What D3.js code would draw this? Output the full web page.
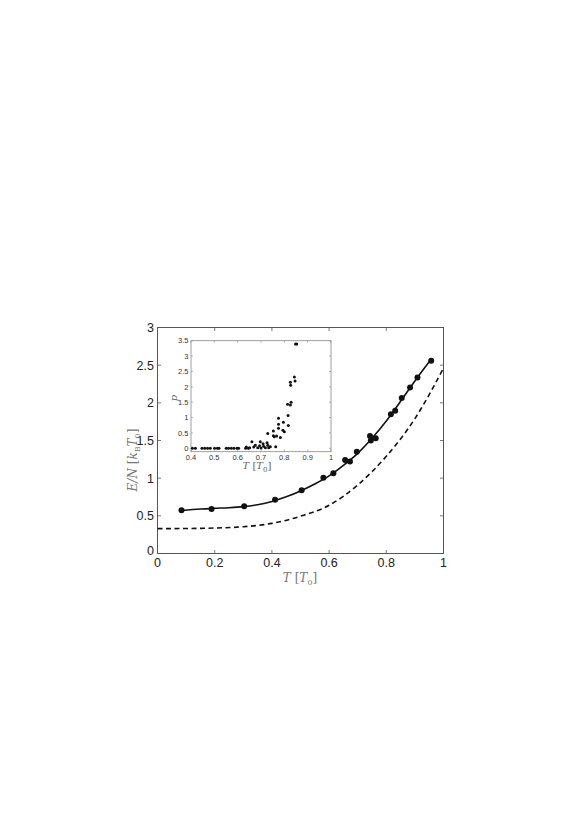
<!DOCTYPE html>
<html><head><meta charset="utf-8">
<script src="https://cdn.jsdelivr.net/npm/d3@7"></script>
<style>body{margin:0;background:#fff}svg{display:block}</style>
</head><body>
<script>
// Main panel data
const dataT = [0.084,0.189,0.303,0.411,0.504,0.580,0.615,0.656,0.673,0.697,0.743,0.746,0.763,0.816,0.831,0.854,0.883,0.909,0.957];
const dataE = [0.575,0.590,0.627,0.712,0.840,1.005,1.065,1.240,1.220,1.350,1.560,1.500,1.530,1.850,1.895,2.065,2.205,2.335,2.560];
const fitT = [0.084,0.15,0.2,0.25,0.3,0.35,0.4,0.45,0.5,0.55,0.6,0.65,0.7,0.75,0.8,0.85,0.9,0.955];
const fitE = [0.570,0.590,0.600,0.608,0.622,0.648,0.690,0.752,0.830,0.922,1.030,1.170,1.330,1.530,1.760,2.020,2.290,2.570];
const dashT = [0,0.1,0.2,0.3,0.4,0.5,0.6,0.7,0.8,0.9,1.0];
const dashE = [0.330,0.332,0.338,0.355,0.400,0.495,0.640,0.910,1.290,1.790,2.460];
const xTicks = [0,0.2,0.4,0.6,0.8,1];
const yTicks = [0,0.5,1,1.5,2,2.5,3];
// Inset data
const insetT = [0.406,0.419,0.447,0.459,0.471,0.483,0.501,0.513,0.520,0.551,0.561,0.573,0.584,0.597,0.604,0.634,0.646,
  0.637,0.651,0.661,0.669,0.676,0.686,0.694,0.697,0.700,0.709,0.711,0.719,0.726,0.729,0.733,0.740,
  0.729,0.753,0.753,0.757,0.763,0.767,0.775,0.775,0.775,0.783,0.794,0.796,0.800,0.814,0.816,0.817,0.826,0.829,0.826,0.827,0.843,0.846,0.848,0.853];
const insetP = [0,0,0,0,0,0,0,0,0,0,0,0,0,0,0,0,0,
  0.04,0.02,0.21,0.04,0.10,0.02,0.08,0.21,0.01,0.15,0.07,0.02,0.18,0.10,0.02,0.05,
  0.48,0.56,0.41,0.38,0.05,0.40,0.98,0.78,0.65,0.35,0.59,0.85,0.54,1.43,1.07,0.74,1.41,1.50,2.15,2.05,2.32,2.19,3.39,3.39];
const insetXTicks = [0.4,0.5,0.6,0.7,0.8,0.9,1];
const insetYTicks = [0,0.5,1,1.5,2,2.5,3,3.5];

const W=578,H=816;
const svg=d3.select("body").append("svg").attr("width",W).attr("height",H);
const sans="Liberation Sans, Arial, Helvetica, sans-serif";
const serif="DejaVu Serif, Liberation Serif, serif";

// main scales
const x=d3.scaleLinear().domain([0,1]).range([157.5,443.5]);
const y=d3.scaleLinear().domain([0,3]).range([553.5,327.5]);
const frameCol="#555";

const g=svg.append("g");
const tl=3.5;
xTicks.forEach(t=>{
  g.append("line").attr("x1",x(t)).attr("x2",x(t)).attr("y1",y(0)).attr("y2",y(0)-tl).attr("stroke",frameCol).attr("stroke-width",0.8);
  g.append("line").attr("x1",x(t)).attr("x2",x(t)).attr("y1",y(3)).attr("y2",y(3)+tl).attr("stroke",frameCol).attr("stroke-width",0.8);
  g.append("text").attr("x",x(t)).attr("y",567).attr("text-anchor","middle").attr("font-family",sans).attr("font-size",12.5).attr("fill","#222").text(t);
});
yTicks.forEach(t=>{
  g.append("line").attr("x1",x(0)).attr("x2",x(0)+tl).attr("y1",y(t)).attr("y2",y(t)).attr("stroke",frameCol).attr("stroke-width",0.8);
  g.append("line").attr("x1",x(1)).attr("x2",x(1)-tl).attr("y1",y(t)).attr("y2",y(t)).attr("stroke",frameCol).attr("stroke-width",0.8);
  g.append("text").attr("x",154).attr("y",y(t)+ (t===0?1:4.5)).attr("text-anchor","end").attr("font-family",sans).attr("font-size",12.5).attr("fill","#222").text(t);
});
g.append("rect").attr("x",x(0)).attr("y",y(3)).attr("width",x(1)-x(0)).attr("height",y(0)-y(3)).attr("fill","none").attr("stroke",frameCol).attr("stroke-width",1);

const line=d3.line().x(d=>x(d[0])).y(d=>y(d[1])).curve(d3.curveMonotoneX);
g.append("path").attr("d",line(d3.zip(dashT,dashE))).attr("fill","none").attr("stroke","#111").attr("stroke-width",1.6).attr("stroke-dasharray","5,3.5");
g.append("path").attr("d",line(d3.zip(fitT,fitE))).attr("fill","none").attr("stroke","#111").attr("stroke-width",1.6);
g.selectAll("circle.m").data(d3.zip(dataT,dataE)).enter().append("circle").attr("cx",d=>x(d[0])).attr("cy",d=>y(d[1])).attr("r",3).attr("fill","#111");

const xl=g.append("text").attr("x",300).attr("y",582).attr("text-anchor","middle").attr("font-family",serif).attr("font-size",12).attr("fill","#777");
xl.append("tspan").attr("font-style","italic").text("T");
xl.append("tspan").text(" [");
xl.append("tspan").attr("font-style","italic").text("T");
xl.append("tspan").attr("font-size",8).attr("dy",3).text("0");
xl.append("tspan").attr("dy",-3).text("]");

const yl=g.append("text").attr("transform","translate(137,460) rotate(-90)").attr("text-anchor","middle").attr("font-family",serif).attr("font-size",12).attr("fill","#777");
yl.append("tspan").attr("font-style","italic").text("E/N");
yl.append("tspan").text(" [");
yl.append("tspan").attr("font-style","italic").text("k");
yl.append("tspan").attr("font-size",8).attr("dy",3).text("B");
yl.append("tspan").attr("font-style","italic").attr("dy",-3).text("T");
yl.append("tspan").attr("font-size",8).attr("dy",3).text("0");
yl.append("tspan").attr("dy",-3).text("]");

// inset
const ix=d3.scaleLinear().domain([0.4,1]).range([191,331]);
const iy=d3.scaleLinear().domain([-0.11,3.5]).range([451.7,340.7]);
const ig=svg.append("g");
ig.append("rect").attr("x",ix(0.4)).attr("y",iy(3.5)).attr("width",ix(1)-ix(0.4)).attr("height",iy(-0.11)-iy(3.5)).attr("fill","#fff").attr("stroke","none");
const itl=2;
const iCol="#888";
insetXTicks.forEach(t=>{
  ig.append("line").attr("x1",ix(t)).attr("x2",ix(t)).attr("y1",iy(-0.11)).attr("y2",iy(-0.11)-itl).attr("stroke",iCol).attr("stroke-width",0.6);
  ig.append("line").attr("x1",ix(t)).attr("x2",ix(t)).attr("y1",iy(3.5)).attr("y2",iy(3.5)+itl).attr("stroke",iCol).attr("stroke-width",0.6);
  ig.append("text").attr("x",ix(t)).attr("y",459.5).attr("text-anchor","middle").attr("font-family",sans).attr("font-size",7.5).attr("fill","#333").text(t);
});
insetYTicks.forEach(t=>{
  ig.append("line").attr("x1",ix(0.4)).attr("x2",ix(0.4)+itl).attr("y1",iy(t)).attr("y2",iy(t)).attr("stroke",iCol).attr("stroke-width",0.6);
  ig.append("line").attr("x1",ix(1)).attr("x2",ix(1)-itl).attr("y1",iy(t)).attr("y2",iy(t)).attr("stroke",iCol).attr("stroke-width",0.6);
  ig.append("text").attr("x",188.5).attr("y",iy(t)+2.7).attr("text-anchor","end").attr("font-family",sans).attr("font-size",7.5).attr("fill","#333").text(t);
});
ig.append("rect").attr("x",ix(0.4)).attr("y",iy(3.5)).attr("width",ix(1)-ix(0.4)).attr("height",iy(-0.11)-iy(3.5)).attr("fill","none").attr("stroke",iCol).attr("stroke-width",0.8);
ig.selectAll("circle").data(d3.zip(insetT,insetP)).enter().append("circle").attr("cx",d=>ix(d[0])).attr("cy",d=>iy(d[1])).attr("r",1.5).attr("fill","#111");

const ixl=ig.append("text").attr("x",257).attr("y",469).attr("text-anchor","middle").attr("font-family",serif).attr("font-size",10).attr("fill","#666");
ixl.append("tspan").attr("font-style","italic").text("T");
ixl.append("tspan").text(" [");
ixl.append("tspan").attr("font-style","italic").text("T");
ixl.append("tspan").attr("font-size",7).attr("dy",2.5).text("0");
ixl.append("tspan").attr("dy",-2.5).text("]");
ig.append("text").attr("transform","translate(177,398) rotate(-90)").attr("text-anchor","middle").attr("font-family",serif).attr("font-style","italic").attr("font-size",10).attr("fill","#666").text("p");
</script>
</body></html>
